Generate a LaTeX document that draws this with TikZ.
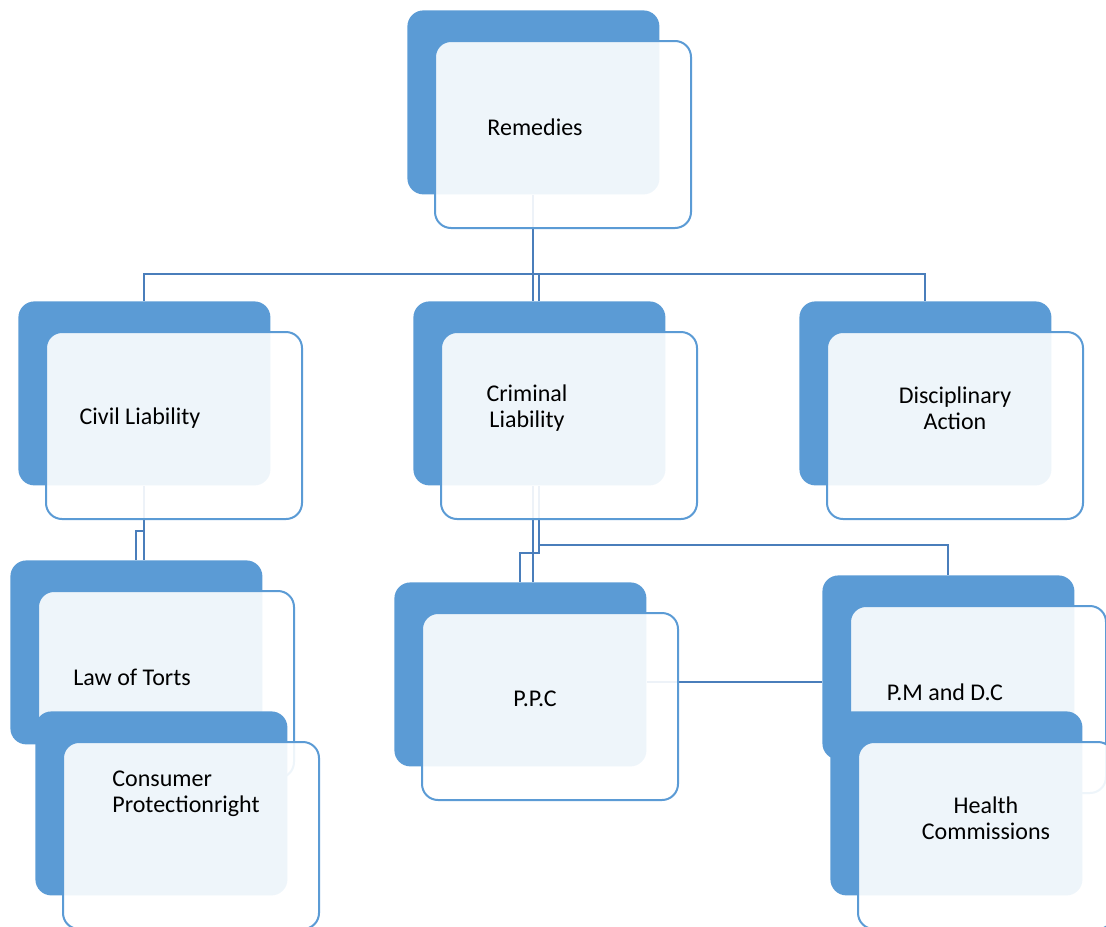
\documentclass[tikz,border=0pt]{standalone}
\usepackage{fontspec}
\setmainfont{Carlito}
\usepackage{tikz}
\pgfdeclarelayer{background}
\pgfsetlayers{background,main}

\definecolor{boxblue}{HTML}{5B9BD5}
\definecolor{linkblue}{HTML}{4A7EBB}

\begin{document}
\begin{tikzpicture}[x=0.5pt,y=-0.5pt,
  back/.style={fill=boxblue, rounded corners=8pt, anchor=north west,
    minimum width=126pt, minimum height=92pt, inner sep=0pt},
  front/.style={draw=boxblue, fill=white, fill opacity=0.9, line width=1pt,
    rounded corners=8pt, anchor=north west,
    minimum width=128pt, minimum height=93.5pt, inner sep=0pt},
  caption/.style={font=\fontsize{12}{12.8}\selectfont, inner sep=0pt},
  capc/.style={align=center},
  capl/.style={align=left},
  link/.style={draw=linkblue, line width=1pt}]
  \useasboundingbox (0,0) rectangle (1106,926);

  % Stacked boxes
  \foreach \nm/\bx/\by/\tx/\ty/\st/\txt in {
      rem/407/10/535/127/capc/{Remedies},
      civ/18/301/140/418/capc/{Civil Liability},
      crim/413/301/527/408/capc/{Criminal\\Liability},
      disc/799/301/955/408/capc/{Disciplinary\\Action},
      law/10/560/132/677/capc/{Law of Torts},
      cons/35/711/186/794/capl/{Consumer\\Protectionright},
      ppc/394/582/535/699/capc/{P.P.C},
      pmdc/822/575/945/692/capc/{P.M and D.C},
      hlth/830/711/986/818/capc/{Health\\Commissions}} {
    \node[back] (\nm-b) at (\bx,\by) {};
    \node[front] (\nm) at ({\bx+27},{\by+30}) {};
    \node[caption,\st] (\nm-t) at (\tx,\ty) {\txt};
  }

  % Connectors
  \begin{pgfonlayer}{background}
    \coordinate (rem-bus) at ([yshift=-39.5pt]rem-b.south);
    \draw[link] (rem-b.south) -- (rem-bus);
    \draw[link] (rem-bus) -| (civ-b.north);
    \draw[link] (rem-bus) -| (disc-b.north);
    \draw[link] (rem-bus) -| (crim-b.north);
    \draw[link] (rem-bus) -- (rem-bus |- crim-b.north);

    \coordinate (civ-bus) at ([yshift=-22.5pt]civ-b.south);
    \draw[link] (civ-b.south) -- (civ-bus);
    \draw[link] (civ-bus) -| (law-b.north);
    \draw[link] (civ-bus) -- (civ-bus |- law-b.north);

    \coordinate (crim-bus) at ([yshift=-29.5pt]crim-b.south);
    \coordinate (crim-drop) at ([xshift=-3pt]crim-b.south);
    \draw[link] (crim-b.south) -- (crim-bus);
    \draw[link] (crim-bus) -| (pmdc-b.north);
    \draw[link] (crim-bus) -- ++(0,8) -| (ppc-b.north);
    \draw[link] (crim-drop) -- (crim-drop |- ppc-b.north);

    \coordinate (ppc-tap) at ([yshift=-4pt]ppc-b.east);
    \draw[link] (ppc-tap) -- (ppc-tap -| pmdc-b.west);
  \end{pgfonlayer}
\end{tikzpicture}
\end{document}
